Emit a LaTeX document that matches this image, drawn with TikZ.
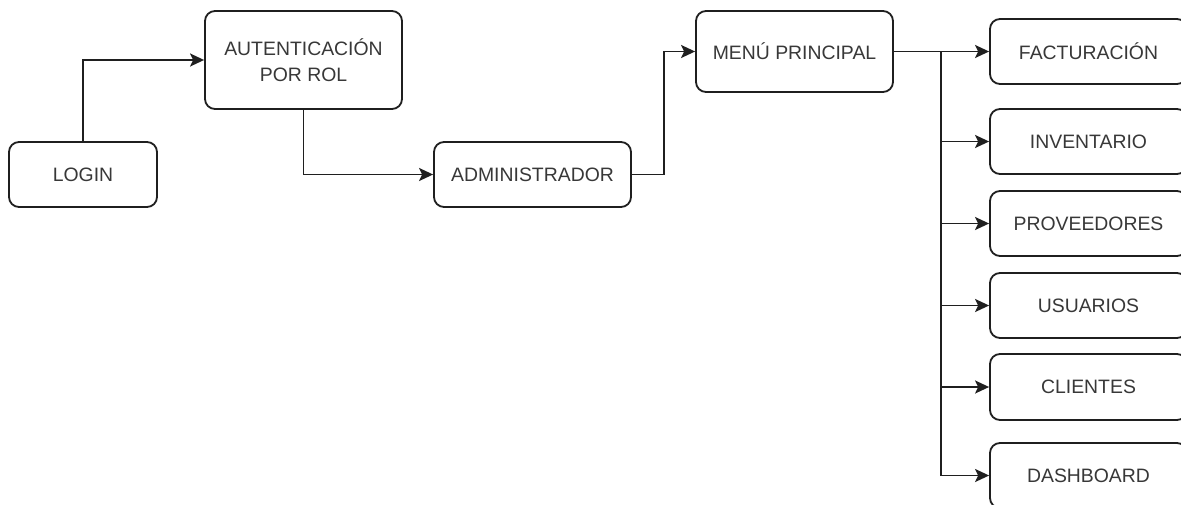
\documentclass[tikz,border=0pt]{standalone}
\usepackage{fontspec}
\setmainfont{Liberation Sans}
\usetikzlibrary{arrows.meta}
\begin{document}
\begin{tikzpicture}[x=1pt,y=-1pt,
  box/.style={draw=black!88, line width=1.8pt, rounded corners=10pt, fill=white,
    align=center, inner sep=0pt, text=black!78,
    font=\fontsize{19.4}{26}\selectfont},
  link/.style={draw=black!88, line width=1.8pt,
    -{Stealth[length=14pt,width=13pt,inset=3pt]}}]
\useasboundingbox (0,0) rectangle (1181,504);
\clip (0,0) rectangle (1181,504);

% main flow
\node[box, minimum width=148pt, minimum height=65pt] (login) at (83,174.5) {LOGIN};
\node[box, minimum width=197pt, minimum height=98pt] (auth) at (303.5,60) {AUTENTICACIÓN\\POR ROL};
\node[box, minimum width=197pt, minimum height=65pt] (admin) at (532.5,174.5) {ADMINISTRADOR};
\node[box, minimum width=197pt, minimum height=81pt] (menu) at (794.5,51.5) {MENÚ PRINCIPAL};

% menu modules
\node[box, minimum width=197pt, minimum height=65pt] (fact) at (1088.5,51.5) {FACTURACIÓN};
\node[box, minimum width=197pt, minimum height=65pt] (inv) at (1088.5,141.5) {INVENTARIO};
\node[box, minimum width=197pt, minimum height=65pt] (prov) at (1088.5,223.5) {PROVEEDORES};
\node[box, minimum width=197pt, minimum height=65pt] (usu) at (1088.5,305.5) {USUARIOS};
\node[box, minimum width=197pt, minimum height=66pt] (cli) at (1088.5,387) {CLIENTES};
\node[box, minimum width=197pt, minimum height=65pt] (dash) at (1088.5,475.5) {DASHBOARD};

\coordinate (trunk) at (941,51.5);

% connectors
\draw[link] (login.north) |- (auth.west);
\draw[link] (auth.south) |- (admin.west);
\draw[link] (admin.east) -- ++(32,0) |- (menu.west);
\draw[link] (menu.east) -- (fact.west);
\draw[link] (trunk) |- (inv.west);
\draw[link] (trunk) |- (prov.west);
\draw[link] (trunk) |- (usu.west);
\draw[link] (trunk) |- (cli.west);
\draw[link] (trunk) |- (dash.west);
\end{tikzpicture}
\end{document}
